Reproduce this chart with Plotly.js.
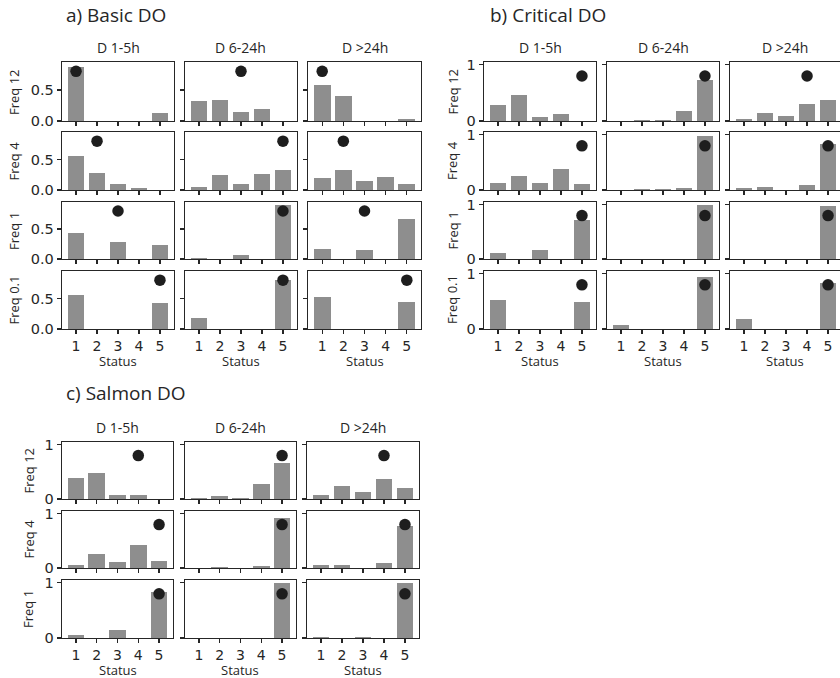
<!DOCTYPE html>
<html><head><meta charset="utf-8">
<script src="https://cdn.plot.ly/plotly-3.0.1.min.js"></script>
<style>html,body{margin:0;padding:0;background:#fff}</style>
</head><body><div id="chart" style="width:840px;height:678px"></div>
<script>
// ---------- data ----------
const status = [1, 2, 3, 4, 5];
const durations = ['D 1-5h', 'D 6-24h', 'D >24h'];
const dotLevel = 0.8;

// a) Basic DO  (each row: three durations x five status values)
const basicTitle = 'a) Basic DO';
const basicRows = ['Freq 12', 'Freq 4', 'Freq 1', 'Freq 0.1'];
const basic_f12 = [[0.87, 0, 0, 0, 0.13], [0.33, 0.34, 0.14, 0.19, 0], [0.58, 0.40, 0, 0, 0.03]];
const basic_f4  = [[0.56, 0.28, 0.10, 0.03, 0], [0.05, 0.24, 0.10, 0.26, 0.32], [0.19, 0.32, 0.145, 0.21, 0.10]];
const basic_f1  = [[0.44, 0, 0.28, 0, 0.24], [0.02, 0, 0.065, 0, 0.90], [0.16, 0, 0.145, 0, 0.67]];
const basic_f01 = [[0.56, 0, 0, 0, 0.42], [0.18, 0, 0, 0, 0.81], [0.53, 0, 0, 0, 0.45]];
const basic_dots = [[1, 3, 1], [2, 5, 2], [3, 5, 3], [5, 5, 5]];
const basicYTicks = [0, 0.5];
const basicYLabels = ['0.0', '0.5'];

// b) Critical DO
const criticalTitle = 'b) Critical DO';
const criticalRows = ['Freq 12', 'Freq 4', 'Freq 1', 'Freq 0.1'];
const critical_f12 = [[0.29, 0.47, 0.07, 0.13, 0], [0, 0.01, 0.01, 0.18, 0.73], [0.04, 0.15, 0.09, 0.31, 0.38]];
const critical_f4  = [[0.12, 0.25, 0.12, 0.38, 0.11], [0, 0.01, 0.01, 0.03, 0.97], [0.035, 0.055, 0, 0.09, 0.84]];
const critical_f1  = [[0.11, 0, 0.16, 0, 0.71], [0, 0, 0, 0, 1.0], [0, 0, 0, 0, 0.98]];
const critical_f01 = [[0.53, 0, 0, 0, 0.49], [0.07, 0, 0, 0, 0.95], [0.18, 0, 0, 0, 0.84]];
const critical_dots = [[5, 5, 4], [5, 5, 5], [5, 5, 5], [5, 5, 5]];
const unitYTicks = [0, 1];
const unitYLabels = ['0', '1'];

// c) Salmon DO
const salmonTitle = 'c) Salmon DO';
const salmonRows = ['Freq 12', 'Freq 4', 'Freq 1'];
const salmon_f12 = [[0.38, 0.48, 0.07, 0.07, 0], [0.01, 0.05, 0.01, 0.27, 0.66], [0.07, 0.24, 0.13, 0.36, 0.20]];
const salmon_f4  = [[0.05, 0.25, 0.11, 0.42, 0.13], [0, 0.02, 0, 0.04, 0.93], [0.05, 0.05, 0, 0.09, 0.78]];
const salmon_f1  = [[0.05, 0, 0.15, 0, 0.84], [0.005, 0, 0, 0, 1.0], [0.01, 0, 0.01, 0, 1.0]];
const salmon_dots = [[4, 5, 4], [5, 5, 5], [5, 5, 5]];

// ---------- layout geometry (pixels) ----------
const W = 840, H = 678;
const TXT = 'Open Sans, Noto Sans, sans-serif';
const TICKFONT = 'DejaVu Sans, sans-serif';
const INK = '#262626';
const BAR = '#8e8e8e';
const DOT = '#1e1e1e';

const panels = [
  { title: basicTitle, titleX: 64, titleY: 15, rowNames: basicRows,
    data: [basic_f12, basic_f4, basic_f1, basic_f01], dots: basic_dots,
    cols: [[62, 174], [185, 297], [308, 421]],
    xr: [[0.33, 5.67], [0.33, 5.67], [0.33, 5.67]],
    rows: [[62, 121], [132, 190], [202, 259], [271, 329]],
    yr: [0, 0.95], yt: basicYTicks, yl: basicYLabels,
    colTitleY: 47, ylabX: 13.5, statusY: 361 },
  { title: criticalTitle, titleX: 488, titleY: 15, rowNames: criticalRows,
    data: [critical_f12, critical_f4, critical_f1, critical_f01], dots: critical_dots,
    cols: [[484, 596], [607, 719], [730, 840]],
    xr: [[0.33, 5.67], [0.33, 5.67], [0.33, 5.57]],
    rows: [[62, 121], [132, 190], [202, 259], [271, 329]],
    yr: [0, 1.05], yt: unitYTicks, yl: unitYLabels,
    colTitleY: 47, ylabX: 452, statusY: 361 },
  { title: salmonTitle, titleX: 64, titleY: 393, rowNames: salmonRows,
    data: [salmon_f12, salmon_f4, salmon_f1], dots: salmon_dots,
    cols: [[62, 173], [185, 296], [307, 419]],
    xr: [[0.33, 5.67], [0.33, 5.67], [0.33, 5.67]],
    rows: [[442, 499], [511, 568], [580, 638]],
    yr: [0, 1.05], yt: unitYTicks, yl: unitYLabels,
    colTitleY: 427, ylabX: 28, statusY: 670 }
];

const px = v => v / W;
const py = v => 1 - v / H;

const traces = [];
const layout = {
  width: W, height: H,
  margin: { l: 0, r: 0, t: 0, b: 0 },
  paper_bgcolor: '#ffffff', plot_bgcolor: '#ffffff',
  showlegend: false, bargap: 0,
  font: { family: TXT, color: INK },
  annotations: []
};

let k = 0;
panels.forEach(p => {
  layout.annotations.push({ text: p.title, x: px(p.titleX), y: py(p.titleY), xref: 'paper', yref: 'paper',
    xanchor: 'left', yanchor: 'middle', showarrow: false, font: { family: TXT, size: 19, color: INK } });
  p.cols.forEach((c, ci) => {
    layout.annotations.push({ text: durations[ci], x: px((c[0] + c[1]) / 2), y: py(p.colTitleY),
      xref: 'paper', yref: 'paper', xanchor: 'center', yanchor: 'middle', showarrow: false,
      font: { family: TXT, size: 14, color: INK } });
    layout.annotations.push({ text: 'Status', x: px((c[0] + c[1]) / 2), y: py(p.statusY),
      xref: 'paper', yref: 'paper', xanchor: 'center', yanchor: 'middle', showarrow: false,
      font: { family: TXT, size: 13, color: INK } });
  });
  p.rows.forEach((r, ri) => {
    layout.annotations.push({ text: p.rowNames[ri], x: px(p.ylabX), y: py((r[0] + r[1]) / 2),
      xref: 'paper', yref: 'paper', xanchor: 'center', yanchor: 'middle', textangle: -90, showarrow: false,
      font: { family: TXT, size: 13, color: INK } });
    const last = ri === p.rows.length - 1;
    p.cols.forEach((c, ci) => {
      k += 1;
      const sx = k === 1 ? '' : String(k);
      traces.push({ type: 'bar', x: status, y: p.data[ri][ci], width: 0.8,
        xaxis: 'x' + sx, yaxis: 'y' + sx, marker: { color: BAR, line: { width: 0 } },
        hoverinfo: 'skip', showlegend: false });
      traces.push({ type: 'scatter', mode: 'markers', x: [p.dots[ri][ci]], y: [dotLevel],
        xaxis: 'x' + sx, yaxis: 'y' + sx, marker: { color: DOT, size: 11.5, line: { width: 0 } },
        hoverinfo: 'skip', showlegend: false, cliponaxis: false });
      const common = { showline: true, mirror: true, linecolor: INK, linewidth: 1.3,
        ticks: 'outside', ticklen: 4, tickwidth: 1.2, tickcolor: INK,
        showgrid: false, zeroline: false, fixedrange: true };
      layout['xaxis' + sx] = Object.assign({}, common, {
        domain: [px(c[0]), px(c[1])], anchor: 'y' + sx, range: p.xr[ci],
        tickmode: 'array', tickvals: status, ticktext: status.map(String), showticklabels: last,
        tickfont: { family: TICKFONT, size: 14, color: INK } });
      layout['yaxis' + sx] = Object.assign({}, common, {
        domain: [py(r[1]), py(r[0])], anchor: 'x' + sx, range: p.yr,
        tickmode: 'array', tickvals: p.yt, ticktext: p.yl, showticklabels: ci === 0,
        tickfont: { family: TICKFONT, size: 14.5, color: INK } });
    });
  });
});

Plotly.newPlot('chart', traces, layout, { staticPlot: true, displayModeBar: false });
</script>
</body></html>
